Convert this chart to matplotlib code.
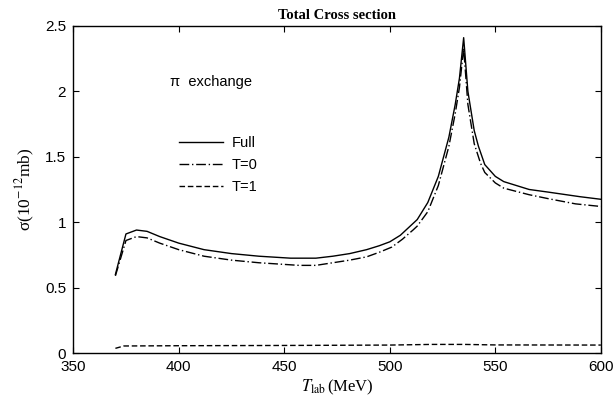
import matplotlib
matplotlib.use("Agg")
import matplotlib.pyplot as plt

# Total cross section vs T_lab
t_full = [370, 375, 380, 385, 391, 400, 412, 425, 438, 453, 465, 473, 481, 489, 495,
          500, 505, 509, 513, 518, 523, 528, 531, 533, 535, 537, 540, 542, 545, 550,
          554, 560, 566, 575, 590, 600]
full = [0.60, 0.91, 0.94, 0.93, 0.89, 0.84, 0.79, 0.76, 0.74, 0.725, 0.725, 0.74, 0.76,
        0.79, 0.82, 0.85, 0.90, 0.96, 1.02, 1.15, 1.35, 1.65, 1.90, 2.10, 2.41, 2.00,
        1.70, 1.58, 1.44, 1.35, 1.31, 1.28, 1.25, 1.23, 1.195, 1.175]

t_t0 = [370, 375, 380, 385, 391, 400, 412, 425, 438, 457, 465, 473, 481, 489, 495,
        501, 506, 511, 513, 518, 523, 528, 531, 533, 535, 537, 540, 543, 545, 550,
        554, 560, 566, 575, 588, 600]
t0 = [0.59, 0.86, 0.89, 0.88, 0.84, 0.79, 0.74, 0.71, 0.69, 0.67, 0.67, 0.69, 0.71,
      0.735, 0.77, 0.81, 0.87, 0.94, 0.97, 1.08, 1.28, 1.58, 1.83, 2.03, 2.33, 1.90,
      1.60, 1.45, 1.38, 1.30, 1.26, 1.235, 1.21, 1.18, 1.14, 1.12]

t_t1 = [370, 374, 400, 450, 500, 520, 535, 550, 600]
t1 = [0.036, 0.054, 0.056, 0.058, 0.061, 0.066, 0.066, 0.062, 0.061]

xticks = [350, 400, 450, 500, 550, 600]
yticks = [0, 0.5, 1, 1.5, 2, 2.5]
ytick_labels = ["0", "0.5", "1", "1.5", "2", "2.5"]

plt.rcParams["font.family"] = ["Liberation Sans", "DejaVu Sans"]
plt.rcParams["mathtext.fontset"] = "stix"

fig = plt.figure(figsize=(6.15, 4.11), dpi=100)
ax = fig.add_axes([0.119, 0.141, 0.858, 0.796])

lw = 1.0
ax.plot(t_full, full, color="black", lw=lw, ls="-", label="Full")
ax.plot(t_t0, t0, color="black", lw=lw, ls=(0, (7, 2, 1, 2)), label="T=0")
ax.plot(t_t1, t1, color="black", lw=lw, ls=(0, (4, 2)), label="T=1")

ax.set_xlim(350, 600)
ax.set_ylim(0, 2.5)
ax.set_xticks(xticks)
ax.set_yticks(yticks)
ax.set_yticklabels(ytick_labels)
ax.tick_params(direction="in", top=True, right=True, length=4, width=0.8,
               labelsize=11, pad=5)
for s in ax.spines.values():
    s.set_linewidth(1.0)

serif = ["Liberation Serif", "DejaVu Serif"]
ax.set_title("Total Cross section", family=serif, fontweight="bold", fontsize=10.5, pad=5)
ax.set_xlabel(r"$T_{\mathrm{lab}}\,$(MeV)", family=serif, fontsize=12, labelpad=3)
ax.set_ylabel("σ(10$^{-12}$mb)", family=serif, fontsize=12.5, labelpad=6)

ax.text(0.183, 0.83, "π  exchange", transform=ax.transAxes, fontsize=10.5,
        va="center", ha="left")

leg = ax.legend(loc="upper left", bbox_to_anchor=(0.19, 0.68), frameon=False,
                fontsize=10.5, handlelength=3.0, handletextpad=0.6, labelspacing=0.55,
                borderaxespad=0)

fig.savefig("out.png", dpi=100)
